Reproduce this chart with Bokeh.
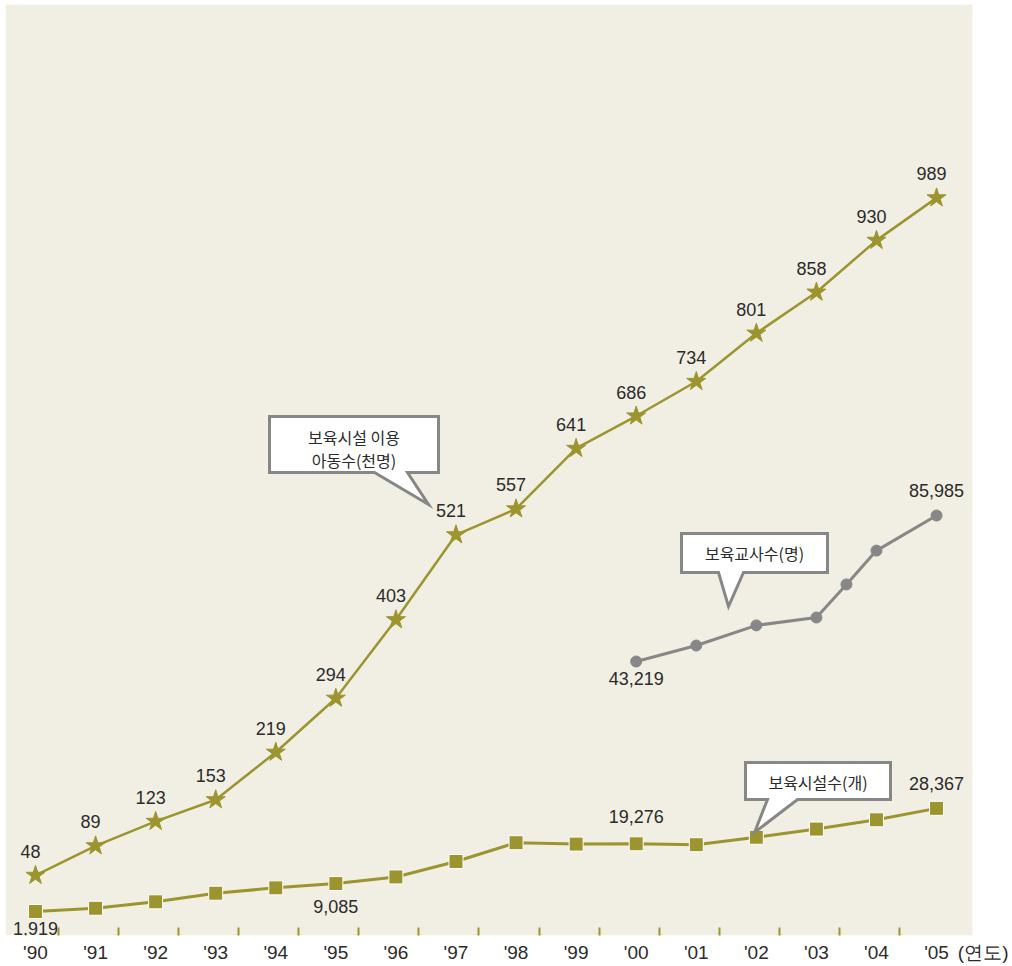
from bokeh.plotting import figure
from bokeh.models import Range1d, FixedTicker, ColumnDataSource, BoxAnnotation
from bokeh.core.properties import value
from bokeh.embed import file_html
from bokeh.resources import INLINE

# ---------------- data ----------------
years = list(range(1990, 2006))
year_labels = ["'90", "'91", "'92", "'93", "'94", "'95", "'96", "'97",
               "'98", "'99", "'00", "'01", "'02", "'03", "'04", "'05"]
children = [48, 89, 123, 153, 219, 294, 403, 521, 557, 641, 686, 734, 801, 858, 930, 989]
facilities = [1919, 2746, 4400, 6604, 7983, 9085, 10784, 14747, 19556, 19200,
              19276, 19050, 20954, 23052, 25430, 28367]
facility_label_idx = [0, 5, 10, 15]
teacher_x = [2000, 2001, 2002, 2003, 2003.5, 2004, 2005]
teachers = [43219, 47900, 53800, 56100, 65800, 75700, 85985]
teacher_label_idx = [0, 6]
callout_children = ["보육시설 이용", "아동수(천명)"]
callout_teachers = "보육교사수(명)"
callout_facilities = "보육시설수(개)"
x_title = "(연도)"

# ---------------- style ----------------
OLIVE = "#9c952f"
GRAY = "#878787"
PANEL = "#f1efe3"
TXT = "#2b2b2b"
NUM_FONT = "Liberation Sans"
KR_FONT = "Noto Sans CJK KR"

LEFT, TOP = 5, 4            # page position of the frame
PX_PER_YEAR = 60.07
FW, FH = 1003, 931
X0 = 1989.5006
X1 = X0 + FW / PX_PER_YEAR
S_LO, S_HI = -35.5, 1257.6
F_LO, F_HI = -4235, 234483
T_LO, T_HI = -37039, 235662


def px2x(px):
    return X0 + (px - LEFT) / PX_PER_YEAR


def py2s(py):
    return S_HI - (py - TOP) * (S_HI - S_LO) / FH


p = figure(frame_width=FW, frame_height=FH, output_backend="svg", toolbar_location=None,
           x_range=Range1d(X0, X1), y_range=Range1d(S_LO, S_HI),
           min_border_left=LEFT, min_border_top=TOP, min_border_right=0, min_border_bottom=26)
p.extra_y_ranges = {"fac": Range1d(F_LO, F_HI), "tea": Range1d(T_LO, T_HI)}
p.background_fill_color = "white"
p.border_fill_color = "white"
p.outline_line_color = None
p.grid.visible = False
p.yaxis.visible = False

# beige panel (ends before the "(연도)" title)
p.add_layout(BoxAnnotation(right=px2x(972), fill_color=PANEL, fill_alpha=1,
                           line_color=None, level="underlay"))

title_x = px2x(984)
ax = p.xaxis[0]
ax.ticker = FixedTicker(ticks=years + [title_x], minor_ticks=[y + 0.383 for y in years[:-1]])
overrides = {y: l for y, l in zip(years, year_labels)}
overrides[title_x] = x_title
ax.major_label_overrides = overrides
ax.axis_line_color = None
ax.major_tick_line_color = None
ax.major_tick_in = 0
ax.major_tick_out = 0
ax.minor_tick_line_color = OLIVE
ax.minor_tick_line_width = 2
ax.minor_tick_in = 8
ax.minor_tick_out = 0
ax.major_label_standoff = 6
ax.major_label_text_font = NUM_FONT
ax.major_label_text_font_size = "19px"
ax.major_label_text_color = TXT

# ---------------- labels ----------------
p.text(x=years, y=children, text=[str(v) for v in children],
       x_offset=-5, y_offset=-24, text_align="center", text_baseline="middle",
       text_font=value(NUM_FONT), text_font_size="18px", text_color=TXT)

fac_src = ColumnDataSource(dict(
    x=[years[i] for i in facility_label_idx],
    y=[facilities[i] for i in facility_label_idx],
    t=[f"{facilities[i]:,}" for i in facility_label_idx],
    dy=[17, 23, -27, -25]))
p.text(x="x", y="y", text="t", y_offset="dy", source=fac_src, y_range_name="fac",
       text_align="center", text_baseline="middle",
       text_font=value(NUM_FONT), text_font_size="18px", text_color=TXT)

tea_src = ColumnDataSource(dict(
    x=[teacher_x[i] for i in teacher_label_idx],
    y=[teachers[i] for i in teacher_label_idx],
    t=[f"{teachers[i]:,}" for i in teacher_label_idx],
    dy=[17, -25]))
p.text(x="x", y="y", text="t", y_offset="dy", source=tea_src, y_range_name="tea",
       text_align="center", text_baseline="middle",
       text_font=value(NUM_FONT), text_font_size="18px", text_color=TXT)

# ---------------- series ----------------
p.line(years, children, line_color=OLIVE, line_width=2.5)
p.scatter(years, children, marker="star", size=20, fill_color=OLIVE, line_color=OLIVE)

p.line(years, facilities, y_range_name="fac", line_color=OLIVE, line_width=3)
p.scatter(years, facilities, y_range_name="fac", marker="square", size=14,
          fill_color=OLIVE, line_color="white", line_width=1)

p.line(teacher_x, teachers, y_range_name="tea", line_color=GRAY, line_width=3)
p.scatter(teacher_x, teachers, y_range_name="tea", marker="circle", size=11,
          fill_color=GRAY, line_color=GRAY)


# ---------------- callouts ----------------
def callout(left, top, right, bottom, tail_l, tail_r, tip, lines, cy):
    xs = [left, right, right, tail_r, tip[0], tail_l, left]
    ys = [top, top, bottom, bottom, tip[1], bottom, bottom]
    p.patch([px2x(v) for v in xs], [py2s(v) for v in ys],
            fill_color="white", line_color=GRAY, line_width=3, line_join="miter")
    cx = (left + right) / 2
    p.text(x=[px2x(cx)] * len(lines), y=[py2s(v) for v in cy], text=lines,
           text_align="center", text_baseline="middle",
           text_font=value(KR_FONT), text_font_size="16px", text_color=TXT)


callout(269, 416, 438, 472, 374, 407, (428, 504), callout_children, [436, 459])
callout(681, 533, 827, 572, 718, 743, (728, 606), [callout_teachers], [552])
callout(745, 762, 890, 799, 767, 797, (754, 832), [callout_facilities], [781])

open("out.html", "w").write(file_html(p, INLINE))
